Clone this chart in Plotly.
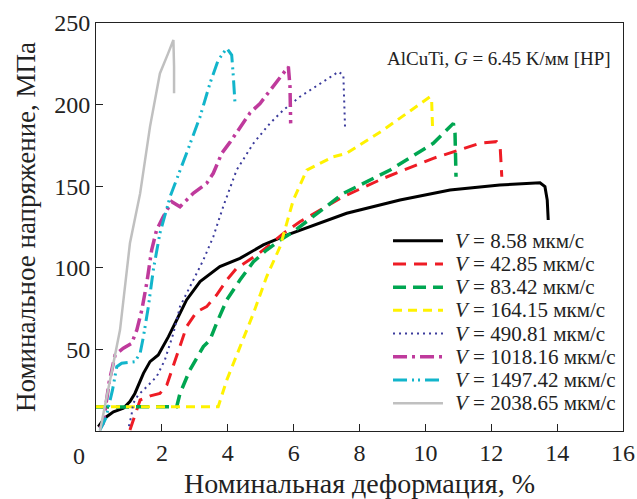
import plotly.graph_objects as go

# Stress-strain curves for AlCuTi at different solidification rates
labels = ["8.58", "42.85", "83.42", "164.15", "490.81", "1018.16", "1497.42", "2038.65"]

strain_1 = [0.07, 0.27, 0.53, 0.83, 1.03, 1.18, 1.44, 1.64, 1.89, 2.2, 2.45, 2.75, 3.16, 3.76, 4.37, 5.08, 5.79, 6.4, 7.61, 9.23, 10.75, 12.26, 13.48, 13.63, 13.7, 13.73]
stress_1 = [2.6, 8, 11.8, 13.9, 18, 23, 35.3, 42.5, 46.6, 57.8, 68, 80.3, 91.5, 100.7, 105.8, 114, 120, 124.5, 133.4, 141.5, 147.7, 150.7, 152.1, 149.7, 141.5, 129.3]

strain_2 = [1.03, 1.18, 1.34, 1.65, 1.94, 2.15, 2.45, 2.75, 3.06, 3.36, 3.66, 3.97, 4.27, 4.88, 5.33, 5.69, 6.19, 7.51, 8.72, 10.24, 11.66, 12.16, 12.27, 12.32]
stress_2 = [0.6, 9.8, 19, 21.5, 23, 28.2, 45.5, 63.9, 73.1, 76.2, 83.3, 92.5, 99.7, 107.8, 115, 121.1, 128.2, 143.6, 154.8, 167.1, 176.3, 177.3, 174.2, 155.8]

strain_3 = [0.0, 2.45, 2.55, 2.85, 3.26, 3.46, 3.66, 3.97, 4.37, 4.78, 5.18, 5.59, 5.99, 6.19, 7.51, 8.93, 10.24, 10.7, 10.85, 10.9, 10.93]
stress_3 = [14.7, 14.9, 23, 37.4, 51.7, 55.8, 66, 80.3, 92.5, 103.7, 110.9, 117, 122.1, 125.2, 145.6, 159.9, 176.3, 185.5, 188.5, 182.4, 155.8]

strain_4 = [0.0, 3.71, 3.97, 4.37, 4.78, 5.18, 5.59, 5.99, 6.4, 6.7, 7.2, 7.61, 8.72, 10.14, 10.19, 10.22]
stress_4 = [14.9, 14.9, 31.2, 51.7, 72.1, 94.5, 113, 141.5, 159.9, 163, 168, 170.2, 184.4, 204.8, 202.8, 184.4]

strain_5 = [1.0, 1.08, 1.13, 1.28, 1.54, 1.84, 2.09, 2.35, 2.55, 2.85, 3.26, 3.56, 3.86, 4.27, 4.78, 5.28, 5.69, 6.19, 6.8, 7.36, 7.51, 7.56]
stress_5 = [3, 10, 17, 22, 27.1, 33.3, 43.5, 59.9, 76.2, 88.4, 104.8, 119, 137.4, 159.9, 176.3, 188.5, 196.7, 204.8, 213, 220.1, 218.1, 186.5]

strain_6 = [0.12, 0.22, 0.4, 0.58, 0.83, 1.08, 1.24, 1.39, 1.54, 1.69, 1.84, 2.04, 2.3, 2.55, 2.95, 3.36, 3.56, 3.82, 4.07, 4.47, 4.68, 4.98, 5.38, 5.74, 5.84, 5.89, 5.91]
stress_6 = [1.6, 4.7, 30, 46.6, 50.7, 53.7, 61.9, 74.1, 90.5, 110.9, 123.2, 131.3, 140.5, 137.4, 145.6, 151.8, 157.9, 170.2, 177, 189, 195, 200.7, 211, 220.1, 223.2, 211, 188.5]

strain_7 = [0.12, 0.3, 0.5, 0.63, 0.78, 1.18, 1.34, 1.44, 1.59, 1.74, 1.94, 2.25, 2.75, 3.16, 3.46, 3.71, 3.97, 4.12, 4.17, 4.22]
stress_7 = [0.5, 8, 25, 39.4, 41.5, 42.5, 47.6, 57.8, 76.2, 98.7, 121.1, 143.6, 170.2, 192.6, 213, 227.3, 234.5, 230.4, 217.1, 200.8]

strain_8 = [0.12, 0.43, 0.73, 1.03, 1.34, 1.64, 1.94, 2.19, 2.35, 2.37, 2.37]
stress_8 = [0, 31, 62, 115, 145.6, 186.5, 219.1, 231.4, 239.6, 223.2, 206.9]

strains = [strain_1, strain_2, strain_3, strain_4, strain_5, strain_6, strain_7, strain_8]
stresses = [stress_1, stress_2, stress_3, stress_4, stress_5, stress_6, stress_7, stress_8]

x_ticks = [0, 2, 4, 6, 8, 10, 12, 14, 16]
y_ticks = [50, 100, 150, 200, 250]

styles = [
    dict(color="#000000", width=3, dash="solid"),
    dict(color="#ee1c25", width=3, dash="13px,8px"),
    dict(color="#00a651", width=3.5, dash="13px,7px"),
    dict(color="#fff200", width=3, dash="9px,6px"),
    dict(color="#3b3b9c", width=2, dash="2px,4px"),
    dict(color="#bf3a9c", width=3.5, dash="14px,5px,3px,5px"),
    dict(color="#12b5cb", width=3, dash="14px,5px,2px,4px,2px,5px"),
    dict(color="#c0c0c0", width=2.5, dash="solid"),
]

FONT = "Liberation Serif, Times New Roman, serif"
TXT = "#222222"

fig = go.Figure()
for lab, xs, ys, st in zip(labels, strains, stresses, styles):
    fig.add_trace(go.Scatter(x=xs, y=ys, mode="lines", line=st,
                             name=f"V = {lab} мкм/с", showlegend=False))

# Legend drawn in paper coordinates: line sample plus label per series
shapes = []
annotations = []
leg_x0, leg_x1, leg_tx = 0.5636, 0.6584, 0.6767
row_top, row_step = 0.4664, 0.0569
for i, (lab, st) in enumerate(zip(labels, styles)):
    yy = row_top - i * row_step
    shapes.append(dict(type="line", xref="paper", yref="paper",
                       x0=leg_x0, x1=leg_x1, y0=yy, y1=yy,
                       line=dict(color=st["color"], width=st["width"], dash=st["dash"])))
    annotations.append(dict(text=f"<i>V</i> = {lab} мкм/с", xref="paper", yref="paper",
                            x=leg_tx, y=yy, xanchor="left", yanchor="middle",
                            showarrow=False, font=dict(family=FONT, size=21, color=TXT)))

annotations.append(dict(text="AlCuTi, <i>G</i> = 6.45 K/мм [HP]", xref="paper", yref="paper",
                        x=0.981, y=0.914, xanchor="right", yanchor="middle", showarrow=False,
                        font=dict(family=FONT, size=19, color=TXT)))
annotations.append(dict(text="0", xref="paper", yref="paper", x=-0.032, y=0,
                        xanchor="center", yanchor="top", yshift=-10, showarrow=False,
                        font=dict(family=FONT, size=24, color=TXT)))

fig.update_layout(
    width=637, height=499,
    margin=dict(l=96, r=14, t=23, b=68),
    paper_bgcolor="white", plot_bgcolor="white",
    font=dict(family=FONT, size=24, color=TXT),
    showlegend=False,
    shapes=shapes,
    annotations=annotations,
)

fig.update_xaxes(
    range=[0, 16], tickvals=x_ticks,
    ticktext=["" if v == 0 else str(v) for v in x_ticks],
    ticks="inside", ticklen=7, tickcolor=TXT,
    showline=True, linecolor=TXT, linewidth=1, mirror=True,
    showgrid=False, zeroline=False, automargin=False,
    tickfont=dict(family=FONT, size=24, color=TXT),
    title=dict(text="Номинальная деформация, %", standoff=10,
               font=dict(family=FONT, size=28, color=TXT)),
)
fig.update_yaxes(
    range=[0, 250], tickvals=y_ticks,
    ticks="inside", ticklen=7, tickcolor=TXT,
    showline=True, linecolor=TXT, linewidth=1, mirror=True,
    showgrid=False, zeroline=False, automargin=False,
    tickfont=dict(family=FONT, size=24, color=TXT),
    title=dict(text="Номинальное напряжение, МПа", standoff=10,
               font=dict(family=FONT, size=27, color=TXT)),
)

fig.write_html("out.html")
